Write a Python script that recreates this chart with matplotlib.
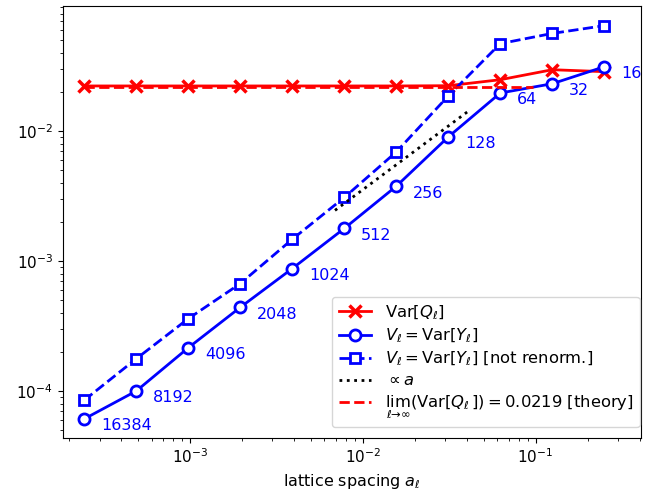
import numpy as np
import matplotlib
matplotlib.use("Agg")
import matplotlib.pyplot as plt

# lattice sizes and spacings
N = [16384, 8192, 4096, 2048, 1024, 512, 256, 128, 64, 32, 16]
a = [4.0 / n for n in N]

var_q = [0.0222, 0.0222, 0.0222, 0.0222, 0.0222, 0.0222, 0.0222, 0.0223, 0.0248, 0.0296, 0.0286]
var_y = [6.1e-5, 1.0e-4, 2.15e-4, 4.4e-4, 8.75e-4, 1.78e-3, 3.76e-3, 9.0e-3, 0.0196, 0.0231, 0.0312]
var_y_raw = [8.5e-5, 1.77e-4, 3.6e-4, 6.7e-4, 1.47e-3, 3.08e-3, 6.9e-3, 0.0186, 0.047, 0.0563, 0.0646]

# reference lines
prop_x = [0.0069, 0.0408]
prop_y = [0.00245, 0.0142]
theory_x = [a[0], 0.097]
theory_y = [0.0219, 0.0219]

plt.rcParams["font.size"] = 11.5

fig = plt.figure(figsize=(6.51, 4.92), dpi=100)
ax = fig.add_axes([62.7 / 651, 1 - 437.7 / 492, 578.3 / 651, 432 / 492])

ax.loglog(a, var_q, "-x", color="red", lw=2, ms=8, mew=2.5,
          label=r"Var$[Q_\ell]$")
ax.loglog(a, var_y, "-o", color="blue", lw=2, ms=8, mew=2, mfc="white",
          label=r"$V_\ell = \mathrm{Var}[Y_\ell]$")
ax.loglog(a, var_y_raw, "--s", color="blue", lw=2, ms=7.5, mew=2, mfc="white",
          label=r"$V_\ell = \mathrm{Var}[Y_\ell]$ [not renorm.]")
ax.loglog(prop_x, prop_y, ":", color="black", lw=2, label=r"$\propto a$")
ax.loglog(theory_x, theory_y, "--", color="red", lw=2,
          label=r"$\lim_{\ell\to\infty}(\mathrm{Var}[Q_\ell]) = 0.0219$ [theory]")

for xi, yi, n in zip(a, var_y, N):
    ax.annotate(str(n), (xi, yi), xytext=(12, -5), textcoords="offset points",
                ha="left", va="center", color="blue", fontsize=11.5)

ax.set_xlim(1.83e-4, 0.408)
ax.set_ylim(4.37e-5, 0.092)
ax.tick_params(labelsize=11)
ax.set_xlabel(r"lattice spacing $a_\ell$", fontsize=11.5)
ax.legend(loc="lower right", fontsize=11.8, labelspacing=0.3,
          bbox_to_anchor=(1.012, 0.005))

fig.savefig("out.png", dpi=100)
